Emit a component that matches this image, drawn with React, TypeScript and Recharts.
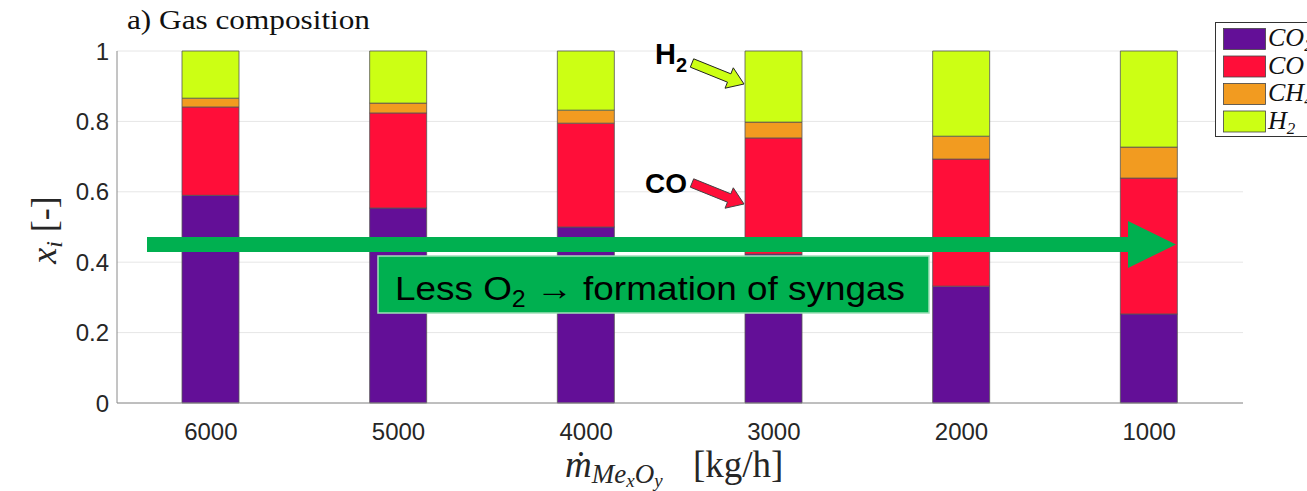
import React from 'react';
import { BarChart, Bar, XAxis, YAxis, CartesianGrid } from 'recharts';

// mass flow of metal oxide [kg/h]
const categories = ['6000', '5000', '4000', '3000', '2000', '1000'];

// mole fractions, stacked bottom -> top
const co2 = [0.59, 0.554, 0.5, 0.423, 0.332, 0.253];
const co = [0.251, 0.27, 0.295, 0.33, 0.361, 0.386];
const ch4 = [0.025, 0.028, 0.037, 0.045, 0.065, 0.088];
const h2 = [0.134, 0.148, 0.168, 0.202, 0.242, 0.273];

const yTicks = [0, 0.2, 0.4, 0.6, 0.8, 1];

const seriesKeys = ['co2', 'co', 'ch4', 'h2'];
const seriesLabels = [
  { base: 'CO', sub: '2' },
  { base: 'CO', sub: '' },
  { base: 'CH', sub: '4' },
  { base: 'H', sub: '2' },
];
const seriesColors = ['#630f97', '#ff0e39', '#f29b20', '#ccff14'];

const data = categories.map((name, i) => ({
  name,
  co2: co2[i],
  co: co[i],
  ch4: ch4[i],
  h2: h2[i],
}));

const W = 1307;
const H = 491;
const serif = '"Liberation Serif", "DejaVu Serif", serif';
const sans = '"Liberation Sans", Arial, sans-serif';

function arrowPoints(x1: number, y1: number, x2: number, y2: number, shaft: number, headW: number, headL: number) {
  const dx = x2 - x1;
  const dy = y2 - y1;
  const len = Math.hypot(dx, dy);
  const ux = dx / len;
  const uy = dy / len;
  const nx = -uy;
  const ny = ux;
  const bx = x2 - ux * headL;
  const by = y2 - uy * headL;
  const pts = [
    [x1 + nx * shaft, y1 + ny * shaft],
    [bx + nx * shaft, by + ny * shaft],
    [bx + nx * headW, by + ny * headW],
    [x2, y2],
    [bx - nx * headW, by - ny * headW],
    [bx - nx * shaft, by - ny * shaft],
    [x1 - nx * shaft, y1 - ny * shaft],
  ];
  return pts.map((p) => p.join(',')).join(' ');
}

const Overlay = () => (
  <svg width={W} height={H} style={{ position: 'absolute', left: 0, top: 0, pointerEvents: 'none' }}>
    {/* title */}
    <text x={127} y={29} fontFamily={serif} fontSize={27} fill="#111" textLength={243} lengthAdjust="spacingAndGlyphs">
      a) Gas composition
    </text>

    {/* y label */}
    <text
      transform="translate(56,230) rotate(-90)"
      textAnchor="middle"
      fontFamily={serif}
      fontSize={36}
      fill="#262626"
    >
      <tspan fontStyle="italic">x</tspan>
      <tspan fontStyle="italic" fontSize={24} dy={6}>i</tspan>
      <tspan dy={-6}>{'  [-]'}</tspan>
    </text>

    {/* x label */}
    <text x={565} y={477} fontFamily={serif} fontSize={37} fill="#262626">
      <tspan fontStyle="italic">{'\u1E41'}</tspan>
      <tspan fontStyle="italic" fontSize={27} dy={6}>Me</tspan>
      <tspan fontStyle="italic" fontSize={19} dy={4}>x</tspan>
      <tspan fontStyle="italic" fontSize={27} dy={-4}>O</tspan>
      <tspan fontStyle="italic" fontSize={19} dy={4}>y</tspan>
      <tspan x={693} dy={-10}>[kg/h]</tspan>
    </text>

    {/* legend */}
    <rect x={1215.5} y={22.5} width={120} height={114} fill="#fff" stroke="#333" strokeWidth={1} />
    {seriesLabels.map((s, i) => (
      <g key={seriesKeys[i]}>
        <rect
          x={1223.5}
          y={28.5 + i * 27.5}
          width={42}
          height={21}
          fill={seriesColors[i]}
          stroke="#444"
          strokeWidth={0.8}
        />
        <text x={1268} y={46 + i * 27.5} fontFamily={serif} fontStyle="italic" fontSize={26} fill="#111">
          {s.base}
          {s.sub ? (
            <tspan fontSize={17} dy={5}>
              {s.sub}
            </tspan>
          ) : null}
        </text>
      </g>
    ))}

    {/* big green arrow */}
    <polygon points={arrowPoints(147, 244.5, 1176, 244.5, 7.5, 23.5, 48)} fill="#00b050" />

    {/* green label box */}
    <rect x={378} y={256} width={551} height={57} fill="#00b050" stroke="#9fe0b8" strokeWidth={1.5} />
    <text x={395} y={300} fontFamily={sans} fontSize={34} fill="#000" textLength={510} lengthAdjust="spacingAndGlyphs">
      Less O
      <tspan fontSize={23} dy={7}>2</tspan>
      <tspan dy={-7}>{' \u2192 formation of syngas'}</tspan>
    </text>

    {/* H2 annotation */}
    <text x={655} y={64} fontFamily={sans} fontWeight="bold" fontSize={29} fill="#000">
      H<tspan fontSize={20} dy={8}>2</tspan>
    </text>
    <polygon points={arrowPoints(692, 63, 744, 84, 4.5, 11, 16)} fill="#ccff14" stroke="#222" strokeWidth={1} />

    {/* CO annotation */}
    <text x={645} y={193} fontFamily={sans} fontWeight="bold" fontSize={28} fill="#000">
      CO
    </text>
    <polygon points={arrowPoints(692, 183, 744, 204, 4.5, 11, 16)} fill="#ff0e39" stroke="#444" strokeWidth={1} />
  </svg>
);

const App = () => {
  return (
    <div style={{ position: 'absolute', left: 0, top: 0, width: W, height: H, overflow: 'hidden', background: '#fff' }}>
      <BarChart width={W} height={H} data={data} margin={{ top: 51, right: 64, left: 0, bottom: 38 }} barSize={57}>
        <CartesianGrid horizontal vertical={false} stroke="#e6e6e6" />
        <XAxis
          dataKey="name"
          height={50}
          axisLine={{ stroke: '#8a8a8a' }}
          tickLine={false}
          tickSize={0}
          tickMargin={20}
          tick={{ fill: '#262626', fontSize: 24, fontFamily: sans }}
        />
        <YAxis
          width={117}
          domain={[0, 1]}
          ticks={yTicks}
          interval={0}
          axisLine={{ stroke: '#8a8a8a' }}
          tickLine={false}
          tickSize={0}
          tickMargin={8}
          tick={{ fill: '#262626', fontSize: 24, fontFamily: sans }}
        />
        {seriesKeys.map((k, i) => (
          <Bar
            key={k}
            dataKey={k}
            stackId="gas"
            fill={seriesColors[i]}
            stroke="#555"
            strokeWidth={0.8}
            isAnimationActive={false}
          />
        ))}
      </BarChart>
      <Overlay />
    </div>
  );
};

export default App;
